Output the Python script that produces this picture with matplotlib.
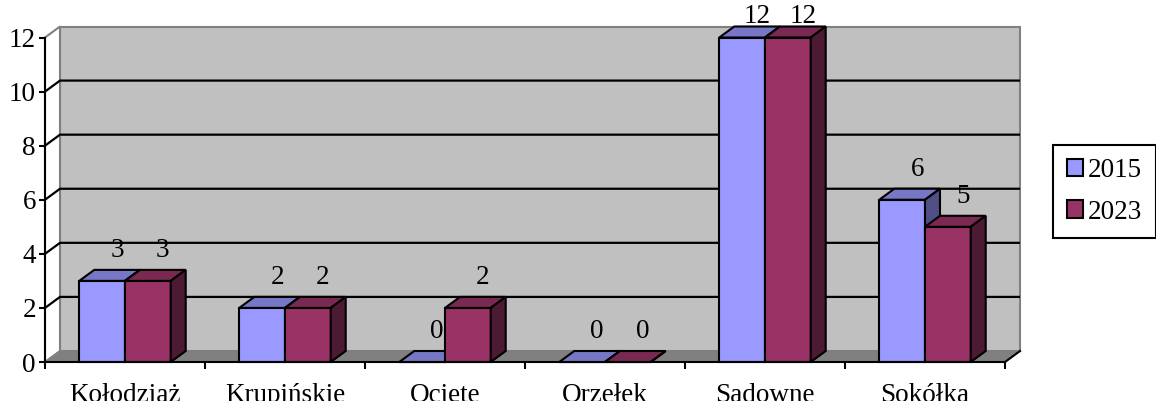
import matplotlib
matplotlib.use('Agg')
import matplotlib.pyplot as plt
from matplotlib.patches import Polygon, Patch

categories = ['Kołodziąż', 'Krupińskie', 'Ocięte', 'Orzełek', 'Sadowne', 'Sokółka']
series_names = ['2015', '2023']
values_2015 = [3, 2, 0, 0, 12, 6]
values_2023 = [3, 2, 2, 0, 12, 5]
y_ticks = [0, 2, 4, 6, 8, 10, 12]

face_colors = {
    '2015': dict(front='#9999FF', top='#7777C6', side='#4F4F85'),
    '2023': dict(front='#993366', top='#7A2952', side='#4D1A33'),
}

plt.rcParams['font.family'] = ['Liberation Serif', 'DejaVu Serif']
FS = 19.5

W, H = 1156, 401
fig = plt.figure(figsize=(W / 100, H / 100), dpi=100)

ax_l, ax_r, ax_b, ax_t = 45, 1005, 362, 37.5
ax = fig.add_axes([ax_l / W, (H - ax_b) / H, (ax_r - ax_l) / W, (ax_b - ax_t) / H])
n = len(categories)
ymax = y_ticks[-1]
ax.set_xlim(-0.5, n - 0.5)
ax.set_ylim(0, ymax)
ax.patch.set_visible(False)

px_x = (ax_r - ax_l) / n
px_y = (ax_b - ax_t) / ymax
dx = 15 / px_x
dy = 11 / px_y

xl, xr = -0.5, n - 0.5
# back wall
ax.add_patch(Polygon([(xl + dx, dy), (xr + dx, dy), (xr + dx, ymax + dy), (xl + dx, ymax + dy)],
                     closed=True, fc='#C0C0C0', ec='#808080', lw=1.5, clip_on=False, zorder=0))
# side wall
ax.add_patch(Polygon([(xl, 0), (xl + dx, dy), (xl + dx, ymax + dy), (xl, ymax)],
                     closed=True, fc='white', ec='#808080', lw=1.5, clip_on=False, zorder=0))
# floor
ax.add_patch(Polygon([(xl, 0), (xr, 0), (xr + dx, dy), (xl + dx, dy)],
                     closed=True, fc='#808080', ec='#808080', lw=1.0, clip_on=False, zorder=0.5))
ax.plot([xr, xr + dx], [0, dy], color='black', lw=1.5, clip_on=False, zorder=5)

# gridlines
for v in y_ticks[1:-1]:
    ax.plot([xl, xl + dx, xr + dx], [v, v + dy, v + dy], color='black', lw=1.6,
            clip_on=False, zorder=1, solid_capstyle='butt')

w = 1 / 3.5
label_gap = 7 / px_y                 # gap between bar top and its label
label_max = (ax_b - 29) / px_y       # keep labels inside the picture


def bar3d(x0, x1, v, c):
    kw = dict(closed=True, ec='black', lw=1.5, clip_on=False, zorder=3, joinstyle='miter')
    ax.add_patch(Polygon([(x0, 0), (x1, 0), (x1, v), (x0, v)], fc=c['front'], **kw))
    ax.add_patch(Polygon([(x0, v), (x0 + dx, v + dy), (x1 + dx, v + dy), (x1, v)], fc=c['top'], **kw))
    ax.add_patch(Polygon([(x1, 0), (x1 + dx, dy), (x1 + dx, v + dy), (x1, v)], fc=c['side'], **kw))


for i in range(n):
    for k, (name, vals) in enumerate(zip(series_names, [values_2015, values_2023])):
        x0 = i - w + k * w
        x1 = x0 + w
        v = vals[i]
        bar3d(x0, x1, v, face_colors[name])
        ly = min(v + dy + label_gap, label_max)
        ax.text(x0 + w / 2 + dx, ly, str(v), ha='center', va='bottom', fontsize=FS,
                color='#000000', zorder=6, clip_on=False)

for s in ['top', 'right']:
    ax.spines[s].set_visible(False)
for s in ['left', 'bottom']:
    ax.spines[s].set_linewidth(1.5)
    ax.spines[s].set_zorder(5)

ax.set_yticks(y_ticks)
ax.set_yticklabels([str(t) for t in y_ticks])
ax.tick_params(axis='y', direction='out', length=4, width=1.5, pad=2.5, labelsize=FS)

ax.set_xticks([i - 0.5 for i in range(n + 1)])
ax.set_xticklabels([''] * (n + 1))
ax.set_xticks(list(range(n)), minor=True)
ax.set_xticklabels(categories, minor=True)
ax.tick_params(axis='x', which='major', direction='out', length=5, width=1.5)
ax.tick_params(axis='x', which='minor', length=0, pad=15, labelsize=FS)

handles = [Patch(fc=face_colors[nm]['front'], ec='black', lw=1.5) for nm in series_names]
leg = fig.legend(handles, series_names, loc='center left', bbox_to_anchor=(1053 / W, 1 - 191.5 / H),
                 bbox_transform=fig.transFigure, fontsize=FS, frameon=True, fancybox=False,
                 edgecolor='black', framealpha=1, handlelength=0.6, handleheight=0.6,
                 handletextpad=0.2, borderpad=0.5, labelspacing=0.6, borderaxespad=0)
leg.get_frame().set_linewidth(1.5)

fig.savefig('out.png', dpi=100)
